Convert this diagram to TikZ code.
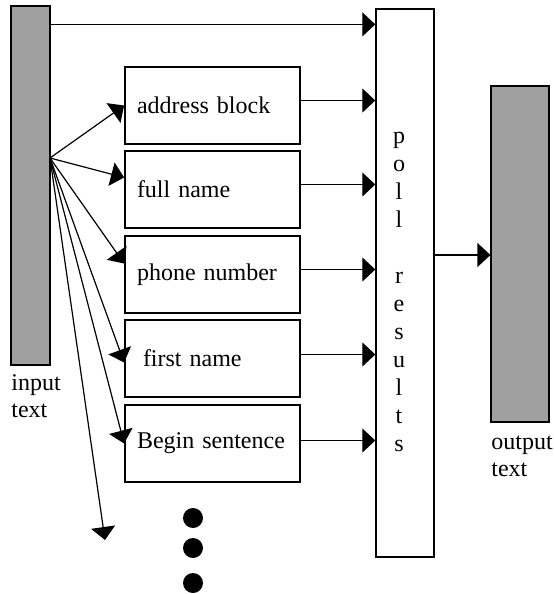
\documentclass[tikz,border=0pt]{standalone}
\usepackage{fontspec}
\setmainfont{Liberation Serif}
\usepackage{tikz}
\usetikzlibrary{positioning,calc,arrows.meta}
\definecolor{bargray}{HTML}{A0A0A0}

\begin{document}
\begin{tikzpicture}[
    x=0.5pt, y=-0.5pt,
    every node/.style={font=\fontsize{12}{13.5}\selectfont},
    bar/.style={
        draw,
        fill=bargray,
        line width=0.6pt,
        inner sep=0pt
    },
    block/.style={
        draw,
        line width=0.9pt,
        align=left,
        text width=75.5pt,
        inner xsep=6pt,
        minimum height=38.5pt
    },
    arrow/.style={-{Triangle[length=6.5pt,width=12pt]}, line width=0.6pt},
    dot/.style={circle, fill=black, minimum size=10pt, inner sep=0pt}
]
\useasboundingbox (0,0) rectangle (553,594);

% input, voting box, output
\node[bar, minimum width=19.5pt, minimum height=179.5pt] (input) at (30.5,185.5) {};
\node[draw, line width=0.7pt, minimum width=29pt, minimum height=274pt, inner sep=0pt] (poll) at (405,283) {};
\node[align=center, font=\fontsize{12}{14}\selectfont] (pollt) at (399,292)
    {p\\o\\l\\l\\\strut\\r\\e\\s\\u\\l\\t\\s};
\node[bar, minimum width=29pt, minimum height=168pt] (output) at (520,254) {};

% labels under the bars
\node[anchor=north west, inner sep=0pt, align=left] (inlab) at (11,374) {input\\text};
\node[anchor=north west, inner sep=0pt, align=left] (outlab) at (491,436) {output\\text};

% recognizers
\node[block] (addr) at (212.5,105.5) {address block};
\node[block] (full) at (212.5,189.5) {full name};
\node[block] (phone) at (212.5,274.5) {phone number};
\node[block] (first) at (212.5,358.5) {\hspace{3pt}first name};
\node[block] (begin) at (212.5,443.5) {Begin sentence};

% more to come
\node[dot] (dot1) at (193,518) {};
\node[dot] (dot2) at (193,548) {};
\node[dot] (dot3) at (193,583) {};

% fan out from the input
\coordinate (fan) at (50,158);
\coordinate (rest) at (105,540);
\draw[arrow] (fan) -- (addr.west);
\draw[arrow] (fan) -- ([yshift=6pt]full.west);
\draw[arrow] (fan) -- ([yshift=5.5pt]phone.west);
\draw[arrow] (fan) -- ([yshift=-2pt]first.west);
\draw[arrow] (fan) -- (begin.west);
\draw[arrow] (fan) -- (rest);

% into the poll
\draw[arrow] ([yshift=-9.5pt]input.north east) -- ([yshift=-9.5pt]input.north east -| poll.west);
\draw[arrow] ([yshift=2.5pt]addr.east) -- ([yshift=2.5pt]addr.east -| poll.west);
\draw[arrow] ([yshift=2.5pt]full.east) -- ([yshift=2.5pt]full.east -| poll.west);
\draw[arrow] ([yshift=2.5pt]phone.east) -- ([yshift=2.5pt]phone.east -| poll.west);
\draw[arrow] ([yshift=2pt]first.east) -- ([yshift=2pt]first.east -| poll.west);
\draw[arrow] ([yshift=1.5pt]begin.east) -- ([yshift=1.5pt]begin.east -| poll.west);

% result
\draw[arrow] ([yshift=14pt]poll.east) -- ([yshift=14pt]poll.east -| output.west);
\end{tikzpicture}
\end{document}
